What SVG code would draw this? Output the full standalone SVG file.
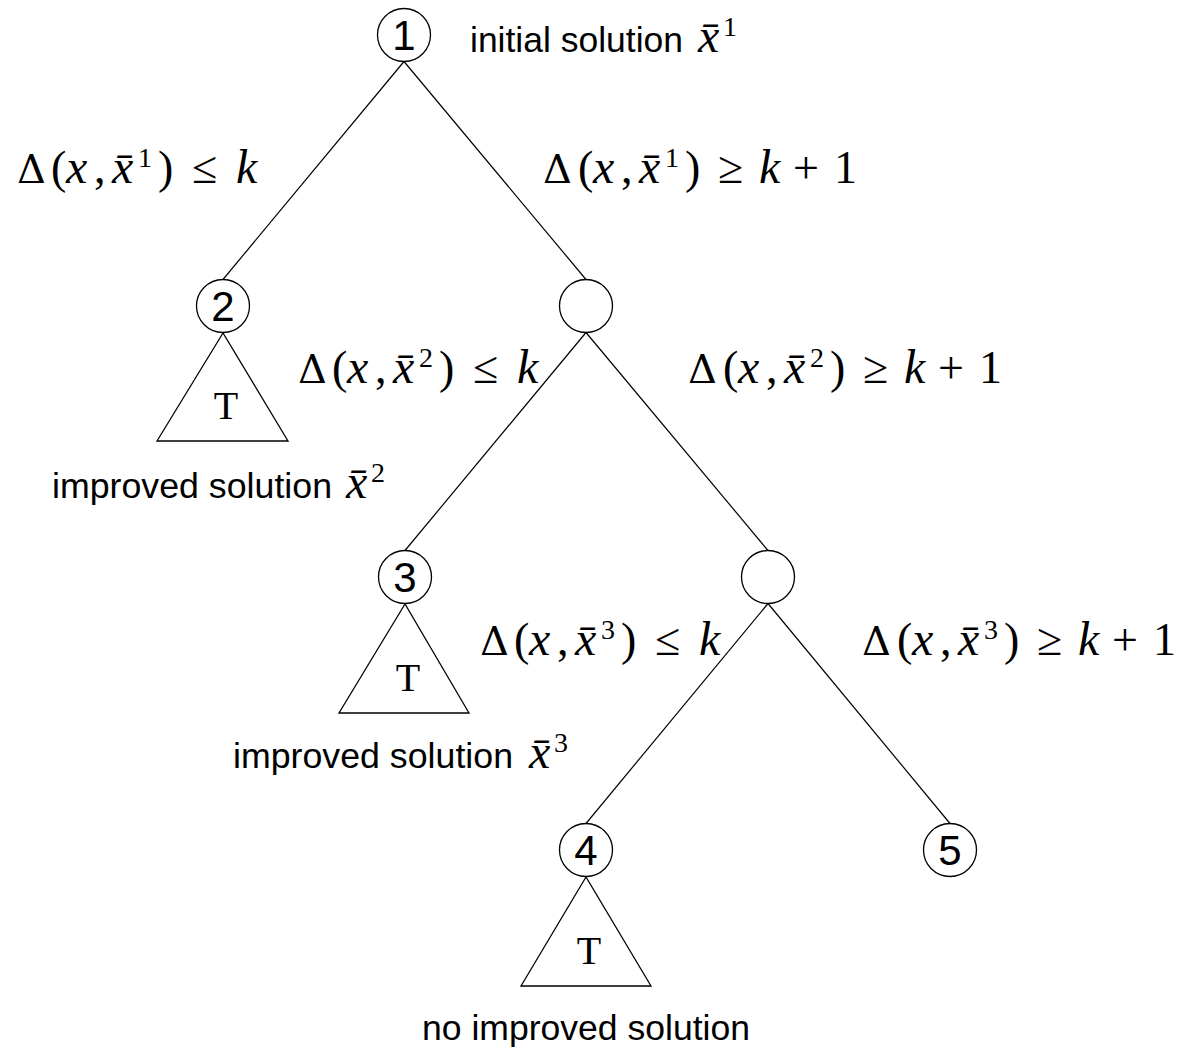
<svg xmlns="http://www.w3.org/2000/svg" width="1182" height="1050" viewBox="0 0 1182 1050">
<style>
.ln{stroke:#000;stroke-width:1.2;fill:none}
.nd{fill:#fff;stroke:#000;stroke-width:1.3}
.tri{fill:#fff;stroke:#000;stroke-width:1.3;stroke-linejoin:miter}
.num{font-family:"Liberation Sans",Arial,sans-serif;font-size:42px;text-anchor:middle}
.tt{font-family:"Liberation Serif","Courier New",serif;font-size:40px;text-anchor:middle}
.sans{font-family:"Liberation Sans",Arial,sans-serif;font-size:35px}
.m{font-family:"Liberation Serif","Times New Roman",serif;font-size:46px}
.d{font-family:"DejaVu Serif",serif;font-size:40px}
.i{font-style:italic;font-size:48px}
.sup{font-size:28px;font-style:normal}
</style>
<rect width="1182" height="1050" fill="#fff"/>
<g id="connectors">
<line class="ln" x1="404" y1="61.5" x2="223" y2="279.5"/>
<line class="ln" x1="404" y1="61.5" x2="586" y2="279.5"/>
<line class="ln" x1="586" y1="332.5" x2="405" y2="550.5"/>
<line class="ln" x1="586" y1="332.5" x2="768" y2="550.5"/>
<line class="ln" x1="768" y1="603.5" x2="586" y2="823.5"/>
<line class="ln" x1="768" y1="603.5" x2="950" y2="823.5"/>
</g>
<g id="node1"><circle class="nd" cx="404" cy="35" r="26.5"/><text class="num" x="404" y="50">1</text></g>
<g id="node2"><circle class="nd" cx="223" cy="306" r="26.5"/><text class="num" x="223" y="321">2</text></g>
<g id="nodeA"><circle class="nd" cx="586" cy="306" r="26.5"/></g>
<g id="node3"><circle class="nd" cx="405" cy="577" r="26.5"/><text class="num" x="405" y="592">3</text></g>
<g id="nodeB"><circle class="nd" cx="768" cy="577" r="26.5"/></g>
<g id="node4"><circle class="nd" cx="586" cy="850" r="26.5"/><text class="num" x="586" y="865">4</text></g>
<g id="node5"><circle class="nd" cx="950" cy="850" r="26.5"/><text class="num" x="950" y="865">5</text></g>
<g id="tree2"><polygon class="tri" points="223,333 157,441 288,441"/><text class="tt" x="226" y="419">T</text></g>
<g id="tree3"><polygon class="tri" points="405,604 339,713 469,713"/><text class="tt" x="408" y="691">T</text></g>
<g id="tree4"><polygon class="tri" points="586,877 521,986 651,986"/><text class="tt" x="589" y="964">T</text></g>
<g id="labels">
<text class="sans" x="470" y="52" textLength="213" lengthAdjust="spacingAndGlyphs">initial solution</text>
<text class="m" y="52"><tspan x="698" class="i">x̄</tspan><tspan x="723" y="36" class="sup">1</tspan></text>
<text class="sans" x="52" y="498" textLength="280" lengthAdjust="spacingAndGlyphs">improved solution</text>
<text class="m" y="498"><tspan x="346" class="i">x̄</tspan><tspan x="371" y="482" class="sup">2</tspan></text>
<text class="sans" x="233" y="768" textLength="280" lengthAdjust="spacingAndGlyphs">improved solution</text>
<text class="m" y="768"><tspan x="529" class="i">x̄</tspan><tspan x="554" y="752" class="sup">3</tspan></text>
<text class="sans" x="422" y="1040" textLength="328" lengthAdjust="spacingAndGlyphs">no improved solution</text>

<text class="m" y="183"><tspan x="17" class="d">Δ</tspan><tspan x="51">(</tspan><tspan x="66" class="i">x</tspan><tspan x="94">,</tspan><tspan x="112" class="i">x̄</tspan><tspan x="138" y="167" class="sup">1</tspan><tspan x="158" y="183">)</tspan><tspan x="192">≤</tspan><tspan x="236" class="i">k</tspan></text>
<text class="m" y="183"><tspan x="543" class="d">Δ</tspan><tspan x="578">(</tspan><tspan x="593" class="i">x</tspan><tspan x="621">,</tspan><tspan x="639" class="i">x̄</tspan><tspan x="665" y="167" class="sup">1</tspan><tspan x="685" y="183">)</tspan><tspan x="718">≥</tspan><tspan x="759" class="i">k</tspan><tspan x="793">+</tspan><tspan x="834">1</tspan></text>
<text class="m" y="383"><tspan x="298" class="d">Δ</tspan><tspan x="332">(</tspan><tspan x="347" class="i">x</tspan><tspan x="375">,</tspan><tspan x="393" class="i">x̄</tspan><tspan x="419" y="367" class="sup">2</tspan><tspan x="439" y="383">)</tspan><tspan x="473">≤</tspan><tspan x="517" class="i">k</tspan></text>
<text class="m" y="383"><tspan x="688" class="d">Δ</tspan><tspan x="723">(</tspan><tspan x="738" class="i">x</tspan><tspan x="766">,</tspan><tspan x="784" class="i">x̄</tspan><tspan x="810" y="367" class="sup">2</tspan><tspan x="830" y="383">)</tspan><tspan x="863">≥</tspan><tspan x="904" class="i">k</tspan><tspan x="938">+</tspan><tspan x="979">1</tspan></text>
<text class="m" y="655"><tspan x="480" class="d">Δ</tspan><tspan x="514">(</tspan><tspan x="529" class="i">x</tspan><tspan x="557">,</tspan><tspan x="575" class="i">x̄</tspan><tspan x="601" y="639" class="sup">3</tspan><tspan x="621" y="655">)</tspan><tspan x="655">≤</tspan><tspan x="699" class="i">k</tspan></text>
<text class="m" y="655"><tspan x="862" class="d">Δ</tspan><tspan x="897">(</tspan><tspan x="912" class="i">x</tspan><tspan x="940">,</tspan><tspan x="958" class="i">x̄</tspan><tspan x="984" y="639" class="sup">3</tspan><tspan x="1004" y="655">)</tspan><tspan x="1037">≥</tspan><tspan x="1078" class="i">k</tspan><tspan x="1112">+</tspan><tspan x="1153">1</tspan></text>
</g>
</svg>
